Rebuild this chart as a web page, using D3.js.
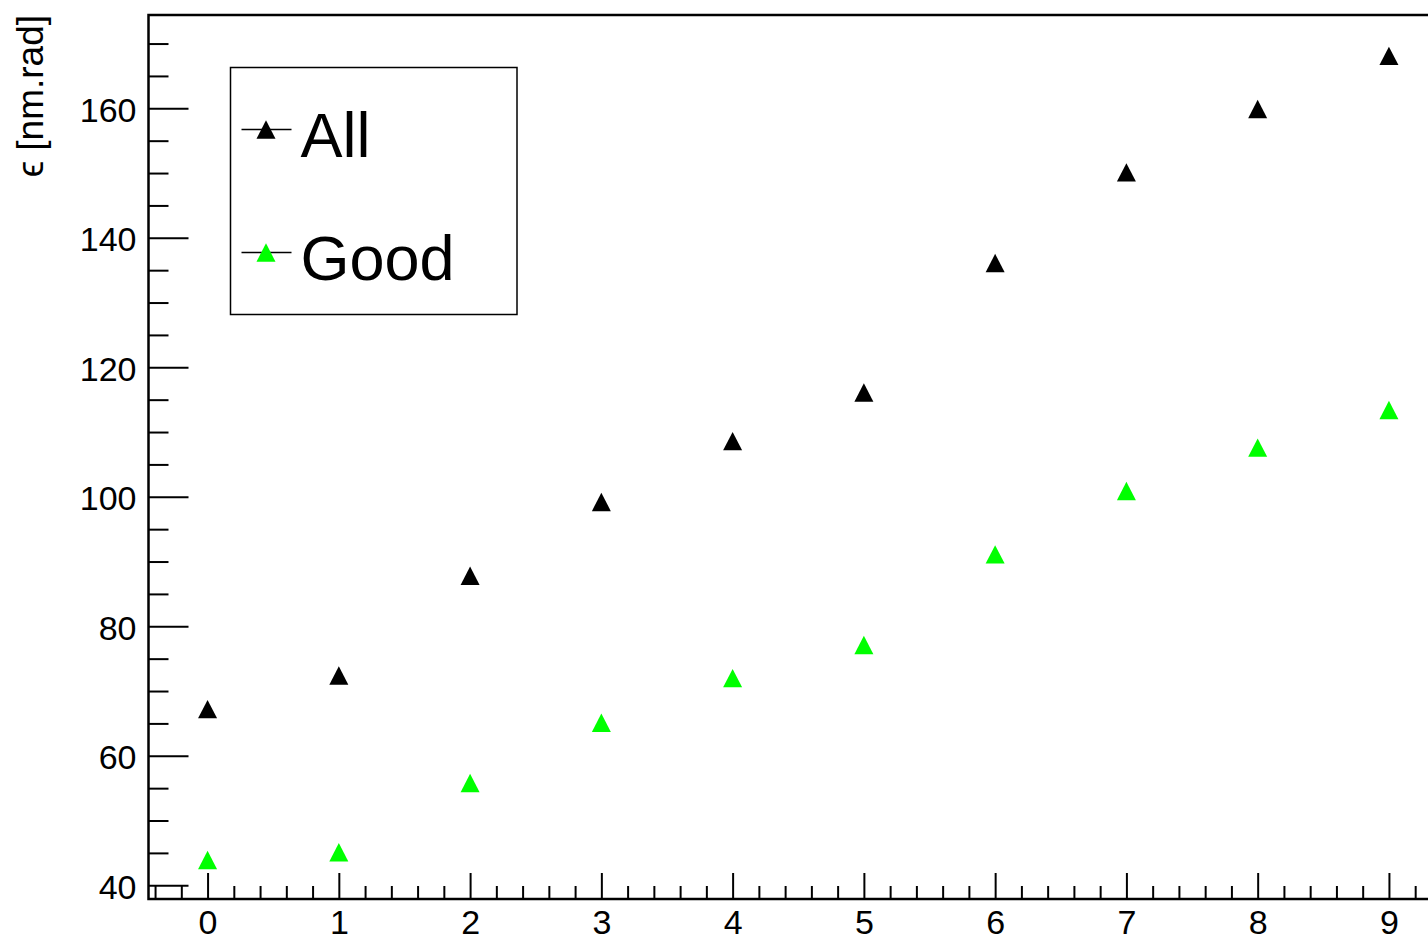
<!DOCTYPE html>
<html>
<head>
<meta charset="utf-8">
<script src="https://cdn.jsdelivr.net/npm/d3@7"></script>
<style>
  html, body { margin: 0; padding: 0; background: #fff; overflow: hidden; }
  svg { display: block; font-family: "Liberation Sans", Arial, Helvetica, sans-serif; }
</style>
</head>
<body>
<svg id="chart" width="1428" height="943"></svg>
<script>
// Emittance per step for all particles and for the good ones
const steps = [0, 1, 2, 3, 4, 5, 6, 7, 8, 9];
const allValues = [67.2, 72.4, 87.8, 99.2, 108.6, 116.1, 136.1, 150.1, 159.9, 168.1];
const goodValues = [43.9, 45.1, 55.8, 65.1, 72.0, 77.1, 91.1, 100.9, 107.6, 113.4];
const xTickLabels = ["0", "1", "2", "3", "4", "5", "6", "7", "8", "9"];
const yTickLabels = ["40", "60", "80", "100", "120", "140", "160"];
const seriesNames = ["All", "Good"];
const seriesColors = ["#000000", "#00ff00"];
const yTitle = "ϵ [nm.rad]";

const svg = d3.select("#chart");

const frame = { left: 148.5, top: 15, right: 1448, bottom: 899 };

const x = d3.scaleLinear().domain([-0.45, 9.45]).range([frame.left, frame.right]);
const y = d3.scaleLinear().domain([37.88, 174.41]).range([frame.bottom, frame.top]);

// Frame
svg.append("rect")
  .attr("x", frame.left).attr("y", frame.top)
  .attr("width", frame.right - frame.left).attr("height", frame.bottom - frame.top)
  .attr("fill", "none").attr("stroke", "#000").attr("stroke-width", 2.5);

function styleAxis(g) {
  g.select(".domain").remove();
  g.selectAll(".tick line").attr("stroke", "#000").attr("stroke-width", 2);
  g.selectAll("text").attr("fill", "#000").attr("font-size", 34)
    .attr("font-family", "Liberation Sans, Arial, sans-serif");
}

// X axis: minor ticks every 0.2, major ticks at integers, pointing inward
const xMinor = d3.range(-4, 95, 2).map(v => v / 10).filter(v => Math.abs(v - Math.round(v)) > 1e-6);
svg.append("g")
  .attr("transform", `translate(0,${frame.bottom})`)
  .call(d3.axisBottom(x).tickValues(xMinor).tickSize(-13).tickFormat(""))
  .call(styleAxis);

svg.append("g")
  .attr("transform", `translate(0,${frame.bottom})`)
  .call(d3.axisBottom(x).tickValues(steps).tickSize(-26).tickFormat((d, i) => xTickLabels[i]))
  .call(styleAxis)
  .call(g => g.selectAll("text").attr("y", 35).attr("dy", null));

// Y axis: minor ticks every 5, major ticks every 20, pointing inward
const yMajor = yTickLabels.map(Number);
const yMinor = d3.range(40, 175, 5).filter(v => v % 20 !== 0);
svg.append("g")
  .attr("transform", `translate(${frame.left},0)`)
  .call(d3.axisLeft(y).tickValues(yMinor).tickSize(-20).tickFormat(""))
  .call(styleAxis);

svg.append("g")
  .attr("transform", `translate(${frame.left},0)`)
  .call(d3.axisLeft(y).tickValues(yMajor).tickSize(-40).tickPadding(12)
    .tickFormat((d, i) => yTickLabels[i]))
  .call(styleAxis)
  .call(g => g.selectAll("text").attr("dy", "0.38em"));

// Y axis title, aligned to the top of the axis
svg.append("text")
  .attr("transform", `translate(43,${frame.top}) rotate(-90)`)
  .attr("text-anchor", "end")
  .attr("font-size", 37)
  .attr("fill", "#000")
  .text(yTitle);

// Triangle markers
const triangle = (cx, cy) => {
  const hw = 9.5, hh = 9.2;
  return `M${cx - hw},${cy + hh}L${cx + hw},${cy + hh}L${cx},${cy - hh}Z`;
};

const series = [allValues, goodValues];
series.forEach((vals, si) => {
  svg.append("g")
    .selectAll("path")
    .data(steps.map((s, i) => ({ s, v: vals[i] })))
    .join("path")
    .attr("d", d => triangle(x(d.s), y(d.v)))
    .attr("fill", seriesColors[si]);
});

// Legend
const legend = svg.append("g");
legend.append("rect")
  .attr("x", 230.5).attr("y", 67.5).attr("width", 286.5).attr("height", 247)
  .attr("fill", "#fff").attr("stroke", "#000").attr("stroke-width", 1.5);

const legendRows = [129.5, 252.5];
seriesNames.forEach((name, i) => {
  const ly = legendRows[i];
  legend.append("line")
    .attr("x1", 241.5).attr("x2", 291.5).attr("y1", ly).attr("y2", ly)
    .attr("stroke", "#000").attr("stroke-width", 1.5);
  legend.append("path")
    .attr("d", triangle(266, ly))
    .attr("fill", seriesColors[i]);
  legend.append("text")
    .attr("x", 300.5).attr("y", ly + 27.5)
    .attr("font-size", 63)
    .attr("fill", "#000")
    .text(name);
});
</script>
</body>
</html>
